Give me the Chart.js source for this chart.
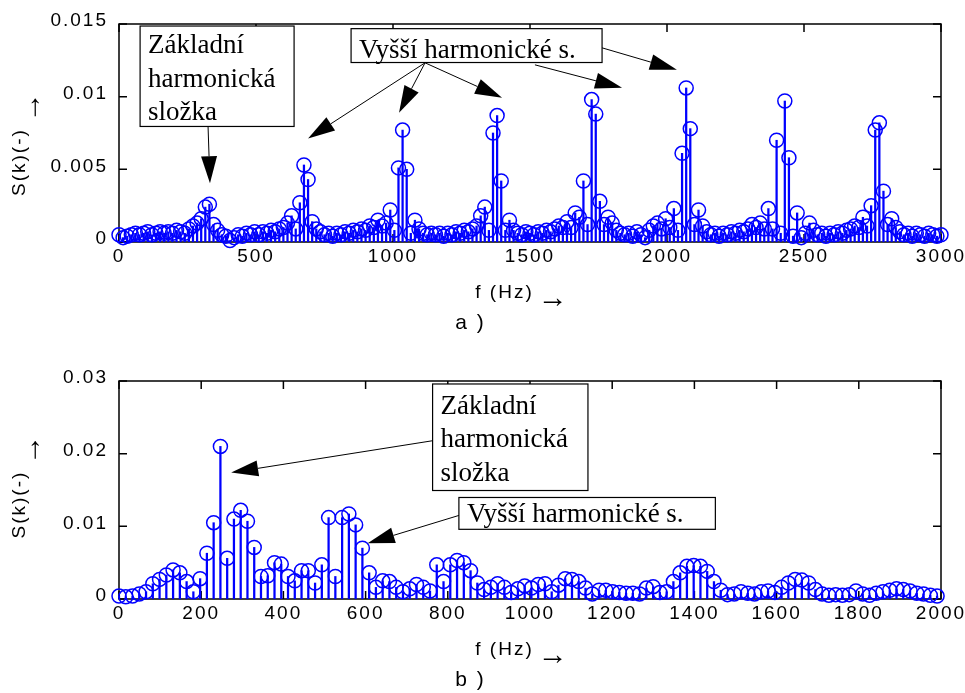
<!DOCTYPE html>
<html lang="cs">
<head>
<meta charset="utf-8">
<title>S(k) - spektrum</title>
<script src="https://cdn.jsdelivr.net/npm/chart.js"></script>
<style>
    body { margin: 0; background: #fff; }
    .panel { position: absolute; left: 0; }
    #panelA { top: 0; }
    #panelB { top: 340px; }
</style>
</head>
<body>
<div class="panel" id="panelA"><canvas id="chartA" width="965" height="340"></canvas></div>
<div class="panel" id="panelB"><canvas id="chartB" width="965" height="353"></canvas></div>

<script>
    // graph a): spectrum bins, 15 Hz apart
    const STEP_A = 15;
    const S_A = [
        0.0005, 0.0003, 0.0004, 0.0005, 0.0006, 0.0005, 0.0006, 0.0007, 0.0005, 0.0006,
        0.0007, 0.0006, 0.0007, 0.0006, 0.0008, 0.0007, 0.0006, 0.0009, 0.0011, 0.0013,
        0.0016, 0.0024, 0.0026, 0.0012, 0.0008, 0.0005, 0.0004, 0.0001, 0.0003, 0.0005,
        0.0004, 0.0006, 0.0005, 0.0007, 0.0005, 0.0007, 0.0006, 0.0008, 0.0007, 0.0009,
        0.0010, 0.0013, 0.0018, 0.0009, 0.0027, 0.0053, 0.0043, 0.0014, 0.0009, 0.0007,
        0.0005, 0.0006, 0.0004, 0.0006, 0.0005, 0.0007, 0.0006, 0.0008, 0.0007, 0.0009,
        0.0008, 0.0011, 0.0010, 0.0015, 0.0011, 0.0013, 0.0022, 0.0008, 0.0051, 0.0077,
        0.0050, 0.0006, 0.0015, 0.0009, 0.0006, 0.0005, 0.0006, 0.0005, 0.0006, 0.0004,
        0.0006, 0.0005, 0.0007, 0.0006, 0.0008, 0.0007, 0.0009, 0.0011, 0.0018, 0.0024,
        0.0008, 0.0075, 0.0087, 0.0042, 0.0008, 0.0015, 0.0008, 0.0006, 0.0005, 0.0007,
        0.0006, 0.0005, 0.0007, 0.0006, 0.0008, 0.0007, 0.0009, 0.0011, 0.0010, 0.0014,
        0.0010, 0.0020, 0.0017, 0.0042, 0.0012, 0.0098, 0.0088, 0.0028, 0.0012, 0.0017,
        0.0013, 0.0008, 0.0006, 0.0005, 0.0006, 0.0004, 0.0007, 0.0005, 0.0003, 0.0008,
        0.0011, 0.0013, 0.0009, 0.0016, 0.0010, 0.0023, 0.0008, 0.0061, 0.0106, 0.0078,
        0.0012, 0.0022, 0.0011, 0.0007, 0.0005, 0.0006, 0.0004, 0.0006, 0.0005, 0.0007,
        0.0006, 0.0008, 0.0007, 0.0009, 0.0012, 0.0010, 0.0013, 0.0009, 0.0023, 0.0009,
        0.0070, 0.0006, 0.0097, 0.0058, 0.0004, 0.0020, 0.0003, 0.0006, 0.0013, 0.0008,
        0.0005, 0.0006, 0.0004, 0.0006, 0.0005, 0.0007, 0.0006, 0.0008, 0.0009, 0.0011,
        0.0010, 0.0017, 0.0011, 0.0025, 0.0077, 0.0082, 0.0035, 0.0012, 0.0016, 0.0010,
        0.0007, 0.0005, 0.0006, 0.0004, 0.0006, 0.0005, 0.0004, 0.0006, 0.0005, 0.0004,
        0.0005
    ];
    const X_TICKS_A = [0, 500, 1000, 1500, 2000, 2500, 3000];
    const Y_TICKS_A = [0, 0.005, 0.01, 0.015];
    const Y_LABELS_A = ['0', '0.005', '0.01', '0.015'];

    // graph b)
    const STEP_B = 16.45;
    const S_B = [
        0.0004, 0.0003, 0.0004, 0.0007, 0.0010, 0.0021, 0.0027, 0.0033, 0.0040, 0.0036,
        0.0024, 0.0010, 0.0028, 0.0063, 0.0105, 0.0210, 0.0056, 0.0110, 0.0122, 0.0107,
        0.0071, 0.0031, 0.0032, 0.0050, 0.0048, 0.0031, 0.0025, 0.0039, 0.0039, 0.0022,
        0.0047, 0.0112, 0.0031, 0.0112, 0.0117, 0.0102, 0.0070, 0.0036, 0.0016, 0.0025,
        0.0024, 0.0016, 0.0010, 0.0014, 0.0020, 0.0016, 0.0011, 0.0047, 0.0024, 0.0047,
        0.0053, 0.0050, 0.0039, 0.0022, 0.0013, 0.0016, 0.0021, 0.0016, 0.0009, 0.0014,
        0.0018, 0.0015, 0.0020, 0.0021, 0.0010, 0.0019, 0.0028, 0.0027, 0.0024, 0.0015,
        0.0007, 0.0012, 0.0012, 0.0010, 0.0009, 0.0008, 0.0008, 0.0007, 0.0015, 0.0017,
        0.0009, 0.0010, 0.0024, 0.0036, 0.0045, 0.0046, 0.0045, 0.0038, 0.0024, 0.0012,
        0.0006, 0.0007, 0.0010, 0.0008, 0.0007, 0.0010, 0.0011, 0.0009, 0.0016, 0.0022,
        0.0027, 0.0026, 0.0022, 0.0013, 0.0007, 0.0005, 0.0006, 0.0005, 0.0006, 0.0011,
        0.0007, 0.0005, 0.0008, 0.0010, 0.0012, 0.0014, 0.0013, 0.0011, 0.0008, 0.0007,
        0.0005, 0.0004
    ];
    const X_TICKS_B = [0, 200, 400, 600, 800, 1000, 1200, 1400, 1600, 1800, 2000];
    const Y_TICKS_B = [0, 0.01, 0.02, 0.03];
    const Y_LABELS_B = ['0', '0.01', '0.02', '0.03'];

    const BLUE = '#0000ff';
    const AXIS_FONT = "19px 'Liberation Sans', Arial, sans-serif";
    Chart.defaults.font.family = "'Liberation Sans', Arial, sans-serif";
    Chart.defaults.color = '#000';

    function toPoints(values, step) {
        return values.map((v, i) => ({ x: i * step, y: v }));
    }

    // spaced-out axis lettering like the original print
    const spacing = {
        id: 'spacing',
        beforeDraw(chart) { chart.ctx.letterSpacing = '2px'; }
    };

    // box around the plot with inward ticks on all sides
    const frame = {
        id: 'frame',
        beforeDatasetsDraw(chart) {
            const { ctx, chartArea: a, scales: { x, y } } = chart;
            ctx.save();
            ctx.strokeStyle = '#000';
            ctx.lineWidth = 1.5;
            ctx.strokeRect(a.left, a.top, a.right - a.left, a.bottom - a.top);
            ctx.beginPath();
            x.ticks.forEach(t => {
                const px = x.getPixelForValue(t.value);
                ctx.moveTo(px, a.bottom); ctx.lineTo(px, a.bottom - 8);
                ctx.moveTo(px, a.top); ctx.lineTo(px, a.top + 8);
            });
            y.ticks.forEach(t => {
                const py = y.getPixelForValue(t.value);
                ctx.moveTo(a.left, py); ctx.lineTo(a.left + 8, py);
                ctx.moveTo(a.right, py); ctx.lineTo(a.right - 8, py);
            });
            ctx.stroke();
            ctx.restore();
        }
    };

    // the little "->" after each axis title, set a bit below the text
    const axisArrows = {
        id: 'axisArrows',
        afterDraw(chart) {
            const { ctx, chartArea: a, scales: { x, y } } = chart;
            ctx.save();
            ctx.font = AXIS_FONT;
            ctx.letterSpacing = '2px';
            const tx = x.options.title.text, ty = y.options.title.text;
            const endX = (a.left + a.right) / 2 - ctx.measureText(tx).width / 2 + ctx.measureText(tx.trimEnd()).width;
            const midX = x.bottom - x.options.title.padding.bottom - 11.4;
            const endY = (a.top + a.bottom) / 2 + ctx.measureText(ty).width / 2 - ctx.measureText(ty.trimEnd()).width;
            const midY = y.left + y.options.title.padding.top + 11.4;
            ctx.letterSpacing = '0px';
            ctx.font = "30px 'Liberation Sans', sans-serif";
            ctx.fillStyle = '#000';
            ctx.textAlign = 'left';
            ctx.textBaseline = 'middle';
            ctx.fillText('\u2192', endX + 4, midX + 6);
            ctx.translate(midY + 12, endY - 6);
            ctx.rotate(-Math.PI / 2);
            ctx.fillText('\u2192', 0, 0);
            ctx.restore();
        }
    };

    // text boxes and arrows, placed in data units
    const notes = {
        id: 'notes',
        afterDraw(chart, args, opts) {
            const { ctx, scales: { x, y } } = chart;
            const px = v => x.getPixelForValue(v);
            const py = v => y.getPixelForValue(v);
            ctx.save();
            ctx.letterSpacing = '0px';
            (opts.boxes || []).forEach(b => {
                const l = px(b.x0), r = px(b.x1), t = py(b.y0), bt = py(b.y1);
                ctx.fillStyle = '#fff';
                ctx.fillRect(l, t, r - l, bt - t);
                ctx.strokeStyle = '#000';
                ctx.lineWidth = 1.2;
                ctx.strokeRect(l, t, r - l, bt - t);
                ctx.fillStyle = '#000';
                ctx.font = "27px 'Liberation Serif', 'Times New Roman', serif";
                ctx.textAlign = 'left';
                ctx.textBaseline = 'alphabetic';
                b.lines.forEach((s, i) => ctx.fillText(s, l + 8, t + b.first + i * 33.5));
            });
            (opts.arrows || []).forEach(a => {
                const x0 = px(a.from[0]), y0 = py(a.from[1]);
                const x1 = px(a.to[0]), y1 = py(a.to[1]);
                const ang = Math.atan2(y1 - y0, x1 - x0);
                const len = 27, hw = 8;
                const bx = x1 - len * Math.cos(ang), by = y1 - len * Math.sin(ang);
                ctx.strokeStyle = '#000';
                ctx.fillStyle = '#000';
                ctx.lineWidth = 1;
                ctx.beginPath(); ctx.moveTo(x0, y0); ctx.lineTo(bx, by); ctx.stroke();
                ctx.beginPath();
                ctx.moveTo(x1, y1);
                ctx.lineTo(bx + hw * Math.sin(ang), by - hw * Math.cos(ang));
                ctx.lineTo(bx - hw * Math.sin(ang), by + hw * Math.cos(ang));
                ctx.closePath();
                ctx.fill();
            });
            ctx.restore();
        }
    };

    function makeChart(id, cfg) {
        const pts = toPoints(cfg.values, cfg.step);
        return new Chart(document.getElementById(id), {
            type: 'bar',
            data: {
                datasets: [
                    {
                        type: 'scatter', data: pts, showLine: false, order: 1, clip: false,
                        borderColor: BLUE, backgroundColor: 'rgba(0,0,0,0)',
                        pointRadius: 7, pointHoverRadius: 7, pointBorderWidth: 1.5
                    },
                    {
                        type: 'bar', data: pts, order: 2,
                        backgroundColor: BLUE, barThickness: 1.6
                    }
                ]
            },
            options: {
                responsive: false,
                animation: false,
                devicePixelRatio: 1,
                events: [],
                layout: { padding: { top: cfg.padTop, right: 24, left: 0, bottom: 0 } },
                plugins: {
                    legend: { display: false },
                    tooltip: { enabled: false },
                    title: {
                        display: true, position: 'bottom', text: cfg.caption,
                        font: { size: 21, weight: 'normal' }, padding: { top: 0, bottom: cfg.capPad }
                    },
                    notes: cfg.notes
                },
                scales: {
                    x: {
                        type: 'linear', min: 0, max: cfg.xMax, offset: false,
                        grid: { display: false }, border: { display: false },
                        afterBuildTicks: s => { s.ticks = cfg.xTicks.map(v => ({ value: v })); },
                        ticks: {
                            autoSkip: false, maxRotation: 0, padding: -5,
                            font: { size: 19 }, callback: v => String(v)
                        },
                        title: {
                            display: true, text: 'f (Hz)       ',
                            font: { size: 19 }, padding: { top: 0, bottom: 7 }
                        },
                        afterFit: s => { s.height = cfg.xHeight; }
                    },
                    y: {
                        min: 0, max: cfg.yMax,
                        grid: { display: false }, border: { display: false },
                        afterBuildTicks: s => { s.ticks = cfg.yTicks.map(v => ({ value: v })); },
                        ticks: {
                            autoSkip: false, padding: 3, labelOffset: -3,
                            font: { size: 19 }, callback: (v, i) => cfg.yLabels[i]
                        },
                        title: {
                            display: true, text: cfg.yTitle,
                            font: { size: 19 }, padding: { top: 8, bottom: 0 }
                        },
                        afterFit: s => { s.width = 119; }
                    }
                }
            },
            plugins: [spacing, frame, notes, axisArrows]
        });
    }

    makeChart('chartA', {
        values: S_A, step: STEP_A, xMax: 3000, yMax: 0.015,
        xTicks: X_TICKS_A, yTicks: Y_TICKS_A, yLabels: Y_LABELS_A,
        yTitle: 'S(k)(-)        ',
        padTop: 24, xHeight: 68.8, caption: 'a )', capPad: 4,
        notes: {
            boxes: [
                { x0: 77, x1: 639, y0: 0.01486, y1: 0.00795, first: 27,
                  lines: ['Základní', 'harmonická', 'složka'] },
                { x0: 847, x1: 1763, y0: 0.01468, y1: 0.01235, first: 29,
                  lines: ['Vyšší harmonické s.'] }
            ],
            arrows: [
                { from: [325, 0.00795], to: [332, 0.00404] },
                { from: [1117, 0.01233], to: [690, 0.00712] },
                { from: [1117, 0.01233], to: [1022, 0.0089] },
                { from: [1117, 0.01233], to: [1398, 0.00993] },
                { from: [1518, 0.01219], to: [1836, 0.01062] },
                { from: [1763, 0.01336], to: [2036, 0.01185] }
            ]
        }
    });

    makeChart('chartB', {
        values: S_B, step: STEP_B, xMax: 2000, yMax: 0.03,
        xTicks: X_TICKS_B, yTicks: Y_TICKS_B, yLabels: Y_LABELS_B,
        yTitle: 'S(k)(-)    ',
        padTop: 41, xHeight: 68.8, caption: 'b )', capPad: 0,
        notes: {
            boxes: [
                { x0: 763, x1: 1141, y0: 0.02959, y1: 0.01493, first: 30,
                  lines: ['Základní', 'harmonická', 'složka'] },
                { x0: 827, x1: 1451, y0: 0.01397, y1: 0.00959, first: 25,
                  lines: ['Vyšší harmonické s.'] }
            ],
            arrows: [
                { from: [763, 0.02178], to: [273, 0.0174] },
                { from: [827, 0.0115], to: [605, 0.00767] }
            ]
        }
    });
</script>
</body>
</html>
